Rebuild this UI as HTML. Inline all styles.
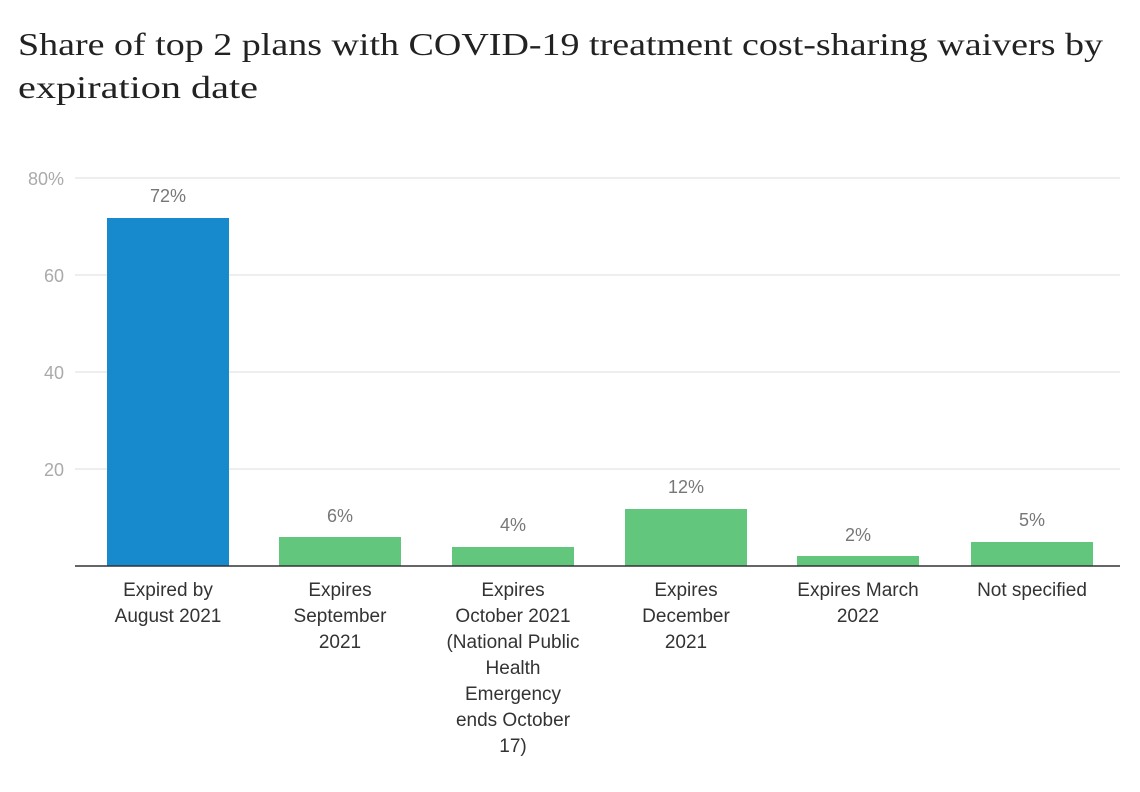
<!DOCTYPE html>
<html><head><meta charset="utf-8"><style>
html,body{margin:0;padding:0;background:#fff;}
svg{display:block;}
</style></head><body>
<svg width="1140" height="792" viewBox="0 0 1140 792" xmlns="http://www.w3.org/2000/svg">
<g font-family="Liberation Serif, serif" font-size="32" fill="#222">
<text x="18" y="55" textLength="1085" lengthAdjust="spacingAndGlyphs">Share of top 2 plans with COVID-19 treatment cost-sharing waivers by</text>
<text x="18" y="98" textLength="240" lengthAdjust="spacingAndGlyphs">expiration date</text>
</g>
<g stroke="#e3e3e3" stroke-width="1.3">
<line x1="75" y1="178" x2="1120" y2="178"/>
<line x1="75" y1="275" x2="1120" y2="275"/>
<line x1="75" y1="372" x2="1120" y2="372"/>
<line x1="75" y1="469" x2="1120" y2="469"/>
</g>
<g font-family="Liberation Sans, sans-serif" font-size="18" fill="#aaa" text-anchor="end">
<text x="64" y="185">80%</text>
<text x="64" y="282">60</text>
<text x="64" y="379">40</text>
<text x="64" y="476">20</text>
</g>
<rect x="107" y="218" width="122" height="348" fill="#1789cd"/>
<g fill="#63c67d">
<rect x="279" y="537" width="122" height="29"/>
<rect x="452" y="547" width="122" height="19"/>
<rect x="625" y="509" width="122" height="57"/>
<rect x="797" y="556" width="122" height="10"/>
<rect x="971" y="542" width="122" height="24"/>
</g>
<line x1="75" y1="566" x2="1120" y2="566" stroke="#333" stroke-width="1.5"/>
<g font-family="Liberation Sans, sans-serif" font-size="18" fill="#777" text-anchor="middle">
<text x="168" y="202">72%</text>
<text x="340" y="522">6%</text>
<text x="513" y="531">4%</text>
<text x="686" y="493">12%</text>
<text x="858" y="541">2%</text>
<text x="1032" y="526">5%</text>
</g>
<g font-family="Liberation Sans, sans-serif" font-size="19" fill="#333" text-anchor="middle">
<text x="168" y="596">Expired by</text>
<text x="168" y="622">August 2021</text>
<text x="340" y="596">Expires</text>
<text x="340" y="622">September</text>
<text x="340" y="648">2021</text>
<text x="513" y="596">Expires</text>
<text x="513" y="622">October 2021</text>
<text x="513" y="648">(National Public</text>
<text x="513" y="674">Health</text>
<text x="513" y="700">Emergency</text>
<text x="513" y="726">ends October</text>
<text x="513" y="752">17)</text>
<text x="686" y="596">Expires</text>
<text x="686" y="622">December</text>
<text x="686" y="648">2021</text>
<text x="858" y="596">Expires March</text>
<text x="858" y="622">2022</text>
<text x="1032" y="596">Not specified</text>
</g>
</svg>
</body></html>
